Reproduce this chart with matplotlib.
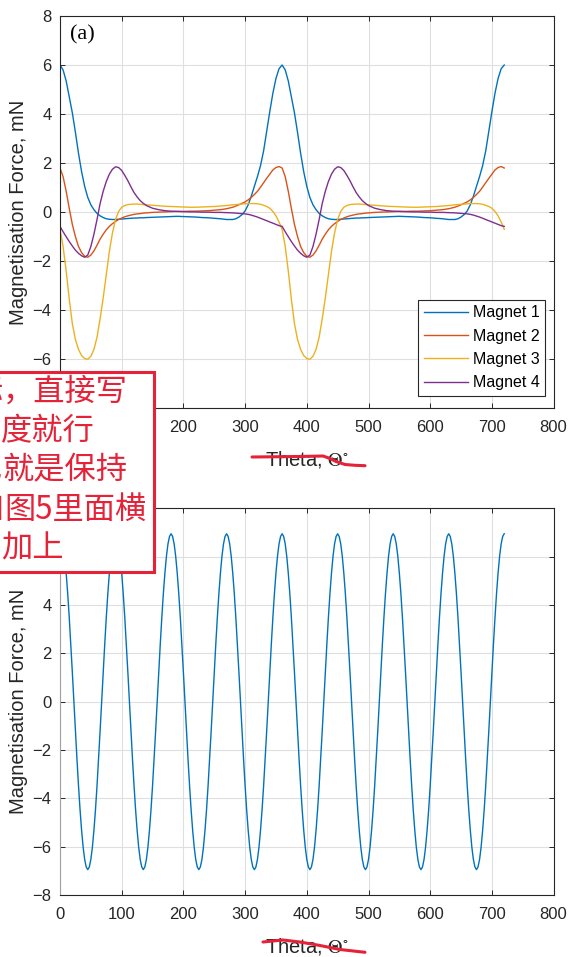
import numpy as np
import matplotlib.pyplot as plt
from matplotlib.patches import Rectangle

plt.rcParams['font.family'] = ['Liberation Sans', 'DejaVu Sans']
plt.rcParams['mathtext.fontset'] = 'stix'

# one 360 deg period, repeated twice
theta_one = [0, 5, 10, 15, 20, 25, 30, 35, 40, 45, 50, 55, 60, 65, 70, 75, 80, 85, 90, 95,
             100, 105, 110, 115, 120, 125, 130, 135, 140,
             150, 160, 170, 180, 190, 200, 210, 220, 230, 240, 250, 260, 270, 280,
             285, 290, 295, 300, 305, 310, 315, 320, 325, 330, 335, 340, 345, 350, 355]
magnet1 = [6.0, 5.8, 5.35, 4.7, 4.05, 3.25, 2.4, 1.65, 1.05, 0.6, 0.3, 0.1, -0.05, -0.15, -0.22,
           -0.27, -0.29, -0.3, -0.3, -0.29, -0.28, -0.27, -0.26, -0.25, -0.24, -0.24, -0.23, -0.23, -0.22,
           -0.21, -0.2, -0.19, -0.18, -0.17, -0.18, -0.19, -0.2, -0.22, -0.23, -0.25, -0.27, -0.3, -0.3,
           -0.27, -0.2, -0.1, 0.05, 0.3, 0.65, 1.05, 1.45, 1.9, 2.5, 3.3, 4.1, 4.85, 5.45, 5.85]
magnet2 = [1.8, 1.45, 0.85, 0.15, -0.5, -1.0, -1.4, -1.65, -1.8, -1.84, -1.75, -1.58, -1.35, -1.1, -0.9,
           -0.72, -0.58, -0.47, -0.38, -0.3, -0.24, -0.19, -0.15, -0.12, -0.09, -0.07, -0.06, -0.04, -0.03,
           -0.01, 0.0, 0.01, 0.02, 0.03, 0.03, 0.04, 0.04, 0.05, 0.06, 0.08, 0.1, 0.14, 0.2,
           0.25, 0.3, 0.36, 0.42, 0.5, 0.6, 0.72, 0.85, 1.02, 1.2, 1.38, 1.55, 1.72, 1.82, 1.86]
magnet3 = [-0.7, -1.4, -2.4, -3.55, -4.55, -5.2, -5.6, -5.85, -5.97, -6.0, -5.88, -5.6, -5.1, -4.35, -3.5,
           -2.55, -1.6, -0.85, -0.3, 0.03, 0.2, 0.27, 0.31, 0.32, 0.33, 0.33, 0.32, 0.31, 0.3,
           0.28, 0.26, 0.24, 0.23, 0.22, 0.21, 0.2, 0.2, 0.21, 0.22, 0.23, 0.25, 0.27, 0.3,
           0.31, 0.32, 0.33, 0.34, 0.35, 0.35, 0.35, 0.34, 0.32, 0.28, 0.23, 0.16, 0.03, -0.15, -0.4]
magnet4 = [-0.58, -0.8, -1.0, -1.2, -1.38, -1.55, -1.68, -1.78, -1.84, -1.75, -1.4, -0.9, -0.3, 0.35, 0.85,
           1.25, 1.55, 1.75, 1.85, 1.82, 1.7, 1.5, 1.28, 1.03, 0.8, 0.62, 0.47, 0.36, 0.27,
           0.16, 0.1, 0.06, 0.04, 0.03, 0.02, 0.01, 0.01, 0.0, 0.0, -0.01, -0.01, -0.02, -0.03,
           -0.04, -0.05, -0.06, -0.07, -0.09, -0.12, -0.16, -0.2, -0.25, -0.3, -0.35, -0.4, -0.45, -0.5, -0.55]
labels = ['Magnet 1', 'Magnet 2', 'Magnet 3', 'Magnet 4']
colors = ['#0072BD', '#D95319', '#EDB120', '#7E2F8E']

# lower panel: one 90 deg period, sampled every 2.5 deg
step2 = 2.5
total_one = [6.95, 6.84, 6.53, 6.02, 5.32, 4.47, 3.48, 2.38, 1.21, 0.0, -1.21, -2.38,
             -3.48, -4.47, -5.32, -6.02, -6.53, -6.84, -6.95, -6.84, -6.53, -6.02, -5.32, -4.47,
             -3.48, -2.38, -1.21, 0.0, 1.21, 2.38, 3.48, 4.47, 5.32, 6.02, 6.53, 6.84]

# review note pasted over the figure (cut at the left edge)
note_lines = ['，直接写', '度就行', '就是保持', '图5里面横', '加上']
note_cut = ['标', '', '也', '和', '再']
note_x = [3, 1, 2, 4, 1]
scribble1 = [(252, 457), (300, 456.5), (323, 456), (330, 458.5), (336, 461.5), (345, 464.5),
             (355, 465.3), (365, 465.7)]
scribble2 = [(263, 942), (283, 940), (300, 942), (320, 945.5), (340, 949.5), (365, 952.3)]
RED = '#e52238'

th = np.array(theta_one, dtype=float)
theta_full = np.concatenate([th, th + 360, [720]])


def full(m):
    return np.concatenate([m, m, [m[0]]])


theta2 = np.arange(len(total_one) * 8 + 1) * step2
total_full = np.concatenate([np.tile(total_one, 8), [total_one[0]]])

W, H = 571, 957
fig = plt.figure(figsize=(W / 100, H / 100), dpi=100)
ax1 = fig.add_axes([60 / W, 1 - 408.3 / H, 493.6 / W, 392.3 / H])
ax2 = fig.add_axes([60 / W, 1 - 895 / H, 493.6 / W, 386.6 / H])


def style(ax, ypx_top, ypx_bot):
    ax.set_xlim(0, 800)
    ax.set_ylim(-8, 8)
    ax.set_xticks(range(0, 801, 100))
    ax.set_yticks(range(-8, 9, 2))
    ax.grid(True, color='#dfdfdf', lw=0.8)
    ax.set_axisbelow(True)
    ax.tick_params(direction='in', length=3.5, width=0.7, top=True, right=True,
                   labelsize=12, colors='#262626')
    ax.tick_params(axis='x', pad=8.5)
    ax.tick_params(axis='y', pad=6)
    for s in ax.spines.values():
        s.set_color('#262626')
        s.set_linewidth(0.8)
    ax.set_ylabel('Magnetisation Force, mN', fontsize=14.5, color='#262626')
    ax.yaxis.set_label_coords(-32 / 493.6, 0.5)
    ax.set_xlabel(r'Theta, $\Theta^{\circ}$', fontsize=14.5, color='#262626')
    h = ypx_bot - ypx_top
    ax.xaxis.set_label_coords(0.5, -41 / h)


for m, lab, c in zip([magnet1, magnet2, magnet3, magnet4], labels, colors):
    ax1.plot(theta_full, full(m), color=c, lw=1.0, label=lab)
style(ax1, 16, 408.3)
ax1.text(0.02, 0.951, '(a)', transform=ax1.transAxes, fontsize=16,
         family='Liberation Serif', ha='left', va='center')
leg = ax1.legend(loc='lower right', bbox_to_anchor=(0.9826, 0.0314), borderaxespad=0,
                 fontsize=11.5, handlelength=2.75, handletextpad=0.3, borderpad=0.35,
                 labelspacing=0.52, fancybox=False, framealpha=1)
leg.get_frame().set_edgecolor('#262626')
leg.get_frame().set_linewidth(0.8)

ax2.plot(theta2, total_full, color='#0072BD', lw=1.0)
style(ax2, 508.4, 895)
ax2.spines['left'].set_color('#a0a0a0')

# overlay in pixel coordinates for the review marks
ov = fig.add_axes([0, 0, 1, 1], zorder=10)
ov.set_xlim(0, W)
ov.set_ylim(H, 0)
ov.axis('off')
ov.patch.set_alpha(0)
ov.add_patch(Rectangle((-5, 371.5), 158.5, 200, facecolor='white', edgecolor=RED, lw=2.2))
cjk = ['Noto Sans CJK SC', 'DejaVu Sans']
for i, (t, c, x0) in enumerate(zip(note_lines, note_cut, note_x)):
    y = 392 + 39.2 * i
    ov.text(x0, y, t, fontsize=22.5, color=RED, ha='left', va='center', family=cjk)
    if c:
        ov.text(x0 - 1, y, c, fontsize=22.5, color=RED, ha='right', va='center', family=cjk)
for pts in [scribble1, scribble2]:
    xs, ys = zip(*pts)
    ov.plot(xs, ys, color=RED, lw=2.2, solid_capstyle='round')

fig.savefig('out.png', dpi=100)
